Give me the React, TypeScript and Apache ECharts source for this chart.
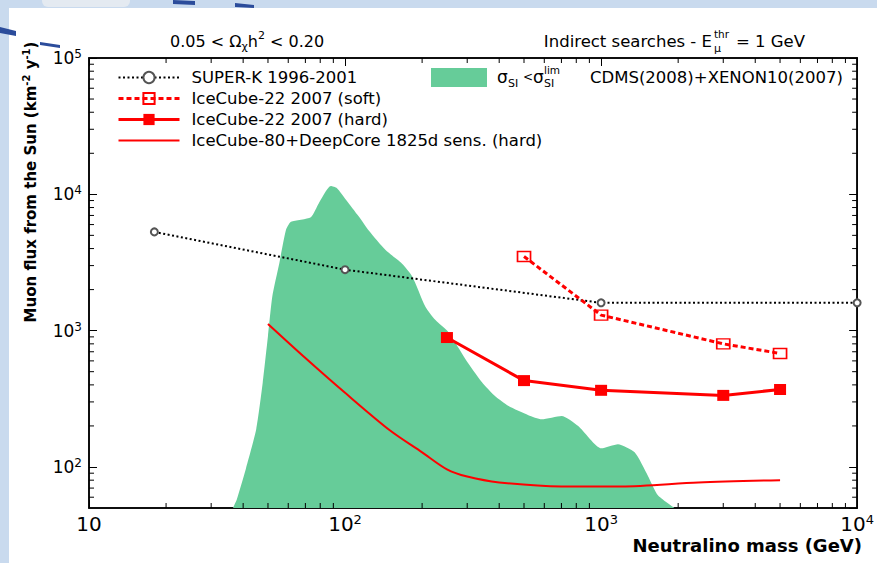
import React, { useEffect, useRef } from 'react';
import * as echarts from 'echarts';

// ---- data (neutralino mass GeV, muon flux km^-2 y^-1) ----
const superK: number[][] = [[18, 5300], [100, 2800], [1000, 1600], [10000, 1600]];
const icSoft: number[][] = [[500, 3500], [1000, 1300], [3000, 800], [5000, 680]];
const icHard: number[][] = [[250, 890], [500, 430], [1000, 365], [3000, 335], [5000, 370]];
const ic80: number[][] = [
  [50, 1120], [70, 630], [100, 350], [150, 185], [200, 128], [250, 96], [300, 85],
  [400, 77], [700, 72], [1200, 72], [2400, 77], [5000, 80],
];
const allowedRegion: number[][] = [
  [36.5, 50], [37.8, 58], [41, 97], [45, 190], [47.7, 417], [50, 914], [52, 1790],
  [55.4, 3140], [58.8, 5500], [61.5, 6300], [73.5, 6800], [79, 8600], [88, 11500],
  [93, 11100], [101, 9100], [113, 6900], [124, 5400], [144, 3900], [167, 3100],
  [183, 2500], [206, 1500], [225, 1200], [254, 970], [295, 620], [342, 420],
  [386, 330], [435, 280], [520, 240], [586, 224], [701, 237], [814, 200],
  [1003, 137], [1164, 147], [1352, 128], [1524, 86], [1667, 62], [1936, 50],
];
const xMinorTicks = [20, 30, 40, 50, 60, 70, 80, 90, 200, 300, 400, 500, 600, 700, 800, 900,
  2000, 3000, 4000, 5000, 6000, 7000, 8000, 9000];
const yMinorTicks = [60, 70, 80, 90, 200, 300, 400, 500, 600, 700, 800, 900,
  2000, 3000, 4000, 5000, 6000, 7000, 8000, 9000, 20000, 30000, 40000, 50000, 60000, 70000, 80000, 90000];

const X_MIN = 10, X_MAX = 10000, Y_MIN = 50, Y_MAX = 100000;

const N_SK = 'SUPER-K 1996-2001';
const N_SOFT = 'IceCube-22 2007 (soft)';
const N_HARD = 'IceCube-22 2007 (hard)';
const N_80 = 'IceCube-80+DeepCore 1825d sens. (hard)';
const N_AREA = 'CDMS(2008)+XENON10(2007)';

const FONT = 'DejaVu Sans';
const RED = '#ff0000';
const GREEN = '#66cc99';

export default function App() {
  const ref = useRef<HTMLDivElement>(null);
  useEffect(() => {
    const chart = echarts.init(ref.current!, null, { renderer: 'svg' });
    const labelFmt = (v: number) => {
      const e = Math.round(Math.log10(v));
      if (Math.abs(v - Math.pow(10, e)) / v > 0.01) return '';
      return e === 1 ? '{b|10}' : `{b|10}{s|${e}}`;
    };
    const tickLine = (x1: number, y1: number, x2: number, y2: number) => ({
      type: 'line', shape: { x1, y1, x2, y2 }, style: { stroke: '#000', lineWidth: 1 },
    });
    const baseX = {
      type: 'log', min: X_MIN, max: X_MAX, logBase: 10,
      axisLine: { show: true, lineStyle: { color: '#000', width: 1.5 } },
      axisTick: { show: true, inside: true, length: 8, lineStyle: { color: '#000', width: 1 } },
      splitLine: { show: false },
      minorTick: { show: false },
    };
    const baseY = {
      type: 'log', min: Y_MIN, max: Y_MAX, logBase: 10,
      axisLine: { show: true, lineStyle: { color: '#000', width: 1.5 } },
      axisTick: { show: true, inside: true, length: 8, lineStyle: { color: '#000', width: 1 } },
      splitLine: { show: false },
      minorTick: { show: false },
    };
    const option: any = {
      animation: false,
      grid: { left: 89, right: 15, top: 58, bottom: 55, show: true, borderColor: '#000', borderWidth: 1.5, backgroundColor: '#fff' },
      xAxis: [
        {
          ...baseX, position: 'bottom',
          axisLabel: {
            show: true, margin: 5, formatter: labelFmt,
            rich: {
              b: { fontFamily: FONT, fontSize: 20, color: '#000', lineHeight: 22 },
              s: { fontFamily: FONT, fontSize: 13, color: '#000', lineHeight: 12, verticalAlign: 'top' },
            },
          },
        },
        { ...baseX, position: 'top', axisLabel: { show: false } },
      ],
      yAxis: [
        {
          ...baseY, position: 'left',
          axisLabel: {
            show: true, margin: 7, showMinLabel: false, formatter: labelFmt,
            rich: {
              b: { fontFamily: FONT, fontSize: 17, color: '#000', lineHeight: 20 },
              s: { fontFamily: FONT, fontSize: 12, color: '#000', lineHeight: 10, verticalAlign: 'top' },
            },
          },
        },
        { ...baseY, position: 'right', axisLabel: { show: false } },
      ],
      legend: [
        {
          orient: 'vertical', left: 117, top: 69, padding: 0, itemWidth: 61, itemHeight: 14, itemGap: 4,
          data: [N_SK, N_SOFT, N_HARD, { name: N_80, itemStyle: { opacity: 0 } }],
          lineStyle: { width: 'inherit' },
          formatter: (n: string) => `{sp|}{t|${n}}`,
          textStyle: {
            rich: {
              sp: { width: 7 },
              t: { fontFamily: FONT, fontSize: 16.5, color: '#000', lineHeight: 17 },
            },
          },
          selectedMode: false,
        },
        {
          orient: 'vertical', left: 431, top: 68, padding: 0, itemWidth: 56, itemHeight: 19,
          data: [{ name: N_AREA, icon: 'rect', itemStyle: { color: GREEN, borderWidth: 0 } }],
          formatter: (n: string) => `{sp|}{t|${n}}`,
          textStyle: {
            rich: {
              sp: { width: 98 },
              t: { fontFamily: FONT, fontSize: 16.5, color: '#000', lineHeight: 19 },
            },
          },
          selectedMode: false,
        },
      ],
      graphic: [
        { type: 'rect', z: -100, shape: { x: 0, y: 0, width: 877, height: 563 }, style: { fill: '#c9daee' } },
        { type: 'rect', z: -99, shape: { x: 9, y: 8, width: 868, height: 555 }, style: { fill: '#ffffff' } },
        { type: 'rect', z: -98, shape: { x: 42, y: 0, width: 88, height: 7, r: [0, 0, 6, 6] }, style: { fill: '#e4eaf1' } },
        { type: 'polygon', z: -97, shape: { points: [[0, 27], [16, 31], [16, 36], [0, 33]] }, style: { fill: '#2b4c9b' } },
        { type: 'polygon', z: -97, shape: { points: [[40, 42], [60, 45], [60, 48], [40, 45]] }, style: { fill: '#2b4c9b' } },
        { type: 'polygon', z: -97, shape: { points: [[173, 0], [195, 1], [195, 5], [173, 4]] }, style: { fill: '#2b4c9b' } },
        { type: 'polygon', z: -97, shape: { points: [[235, 3], [254, 5], [254, 8], [235, 7]] }, style: { fill: '#2b4c9b' } },
        {
          type: 'text', x: 170, y: 41, z: 10,
          style: {
            text: '{t|0.05 < Ω}{sub|χ}{t|h}{sup|2}{t| < 0.20}', align: 'left', verticalAlign: 'middle',
            rich: {
              t: { fontFamily: FONT, fontSize: 16, fill: '#000', lineHeight: 22 },
              sub: { fontFamily: FONT, fontSize: 11, fill: '#000', lineHeight: 10, verticalAlign: 'bottom' },
              sup: { fontFamily: FONT, fontSize: 11, fill: '#000', lineHeight: 10, verticalAlign: 'top' },
            },
          },
        },
        { type: 'text', x: 712, y: 41, z: 10, style: { text: 'Indirect searches - E', fontFamily: FONT, fontSize: 16.5, fill: '#000', align: 'right', verticalAlign: 'middle' } },
        { type: 'text', x: 714, y: 34, z: 10, style: { text: 'thr', fontFamily: FONT, fontSize: 10.5, fill: '#000', align: 'left', verticalAlign: 'middle' } },
        { type: 'text', x: 714, y: 48, z: 10, style: { text: 'μ', fontFamily: FONT, fontSize: 11, fill: '#000', align: 'left', verticalAlign: 'middle' } },
        { type: 'text', x: 736, y: 41, z: 10, style: { text: '= 1 GeV', fontFamily: FONT, fontSize: 16.5, fill: '#000', align: 'left', verticalAlign: 'middle' } },
        { type: 'text', x: 497, y: 77, z: 10, style: { text: 'σ', fontFamily: FONT, fontSize: 17, fill: '#000', align: 'left', verticalAlign: 'middle' } },
        { type: 'text', x: 508, y: 83, z: 10, style: { text: 'SI', fontFamily: FONT, fontSize: 11, fill: '#000', align: 'left', verticalAlign: 'middle' } },
        { type: 'text', x: 523, y: 77, z: 10, style: { text: '<', fontFamily: FONT, fontSize: 12, fill: '#000', align: 'left', verticalAlign: 'middle' } },
        { type: 'text', x: 533, y: 77, z: 10, style: { text: 'σ', fontFamily: FONT, fontSize: 17, fill: '#000', align: 'left', verticalAlign: 'middle' } },
        { type: 'text', x: 544, y: 70, z: 10, style: { text: 'lim', fontFamily: FONT, fontSize: 10.5, fill: '#000', align: 'left', verticalAlign: 'middle' } },
        { type: 'text', x: 544, y: 83, z: 10, style: { text: 'SI', fontFamily: FONT, fontSize: 11, fill: '#000', align: 'left', verticalAlign: 'middle' } },
        {
          type: 'text', x: 31, y: 182, rotation: Math.PI / 2, z: 10,
          style: {
            text: '{t|Muon flux from the Sun (km}{sup|-2}{t| y}{sup|-1}{t|)}', align: 'center', verticalAlign: 'middle',
            rich: {
              t: { fontFamily: FONT, fontSize: 15, fontWeight: 'bold', fill: '#000', lineHeight: 20 },
              sup: { fontFamily: FONT, fontSize: 10, fontWeight: 'bold', fill: '#000', lineHeight: 9, verticalAlign: 'top' },
            },
          },
        },
        { type: 'text', x: 862, y: 545, z: 10, style: { text: 'Neutralino mass (GeV)', fontFamily: FONT, fontSize: 18, fontWeight: 'bold', fill: '#000', align: 'right', verticalAlign: 'middle' } },
      ],
      series: [
        {
          name: N_AREA, type: 'line', data: allowedRegion, symbol: 'none', smooth: 0.2, z: 1,
          lineStyle: { width: 0, color: GREEN }, itemStyle: { color: GREEN },
          areaStyle: { color: GREEN, opacity: 1, origin: 'start' },
        },
        {
          name: N_SK, type: 'line', data: superK, z: 4,
          symbol: 'emptyCircle', symbolSize: 7,
          lineStyle: { color: '#000', width: 2, type: [2, 2.5] },
          itemStyle: { color: '#555', borderColor: '#555', borderWidth: 1.2 },
        },
        {
          name: N_SOFT, type: 'line', data: icSoft, z: 5,
          symbol: 'rect', symbolSize: [13, 10],
          lineStyle: { color: RED, width: 3, type: [5, 3] },
          itemStyle: { color: 'rgba(255,255,255,0)', borderColor: RED, borderWidth: 1.5 },
        },
        {
          name: N_HARD, type: 'line', data: icHard, z: 5,
          symbol: 'rect', symbolSize: [12, 11],
          lineStyle: { color: RED, width: 3 },
          itemStyle: { color: RED },
        },
        {
          name: N_80, type: 'line', data: ic80, z: 3, symbol: 'none', smooth: 0.3,
          lineStyle: { color: RED, width: 2 }, itemStyle: { color: RED },
        },
        {
          type: 'custom', silent: true, clip: false, z: 6,
          data: xMinorTicks.map((v) => [v, Y_MIN]),
          renderItem: (_p: any, api: any) => {
            const v = api.value(0);
            const b = api.coord([v, Y_MIN]);
            const t = api.coord([v, Y_MAX]);
            return {
              type: 'group',
              children: [tickLine(b[0], b[1], b[0], b[1] - 5), tickLine(t[0], t[1], t[0], t[1] + 5)],
            };
          },
        },
        {
          type: 'custom', silent: true, clip: false, z: 6,
          data: yMinorTicks.map((v) => [X_MIN, v]),
          renderItem: (_p: any, api: any) => {
            const v = api.value(1);
            const l = api.coord([X_MIN, v]);
            const r = api.coord([X_MAX, v]);
            return {
              type: 'group',
              children: [tickLine(l[0], l[1], l[0] + 5, l[1]), tickLine(r[0], r[1], r[0] - 5, r[1])],
            };
          },
        },
      ],
    };
    chart.setOption(option);
    return () => chart.dispose();
  }, []);
  return <div ref={ref} style={{ position: 'absolute', left: 0, top: 0, width: 877, height: 563 }} />;
}
